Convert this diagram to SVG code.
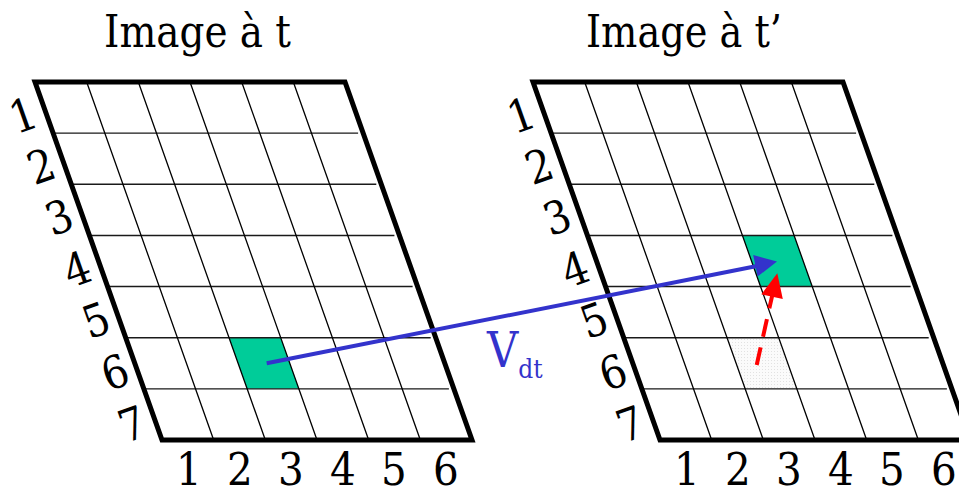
<svg xmlns="http://www.w3.org/2000/svg" xmlns:xlink="http://www.w3.org/1999/xlink" width="959" height="488" viewBox="0 0 959 488">
<style>
text{font-family:'DejaVu Serif Condensed','DejaVu Serif',serif;font-stretch:condensed}
.txt{font-size:45px;fill:#000}
.ttl{font-size:44px;fill:#000}
.num{text-anchor:middle}
.outline{fill:none;stroke:#000;stroke-width:5;stroke-linejoin:miter}
.gl{stroke:#000;stroke-width:1.3;fill:none}
.hl{stroke:#1a1a1a;stroke-width:1.4;fill:none}
.cell{fill:#00cc99}
.vec{stroke:#3333cc;stroke-width:4;fill:none}
.vecHead{fill:#3333cc}
.red{stroke:#ff0000;stroke-width:4;fill:none;stroke-dasharray:18 11}
.redHead{fill:#ff0000}
.vlab{fill:#3333cc}
</style>
<defs>
<pattern id="stip" width="3" height="3" patternUnits="userSpaceOnUse">
<rect width="3" height="3" fill="#fbfbfb"/>
<rect width="1" height="1" fill="#e2e2e2"/>
</pattern>
<g id="gridLines">
<path class="hl" d="M53.14,133.14H358.1 M71.29,184.29H376.3 M89.43,235.43H394.4 M107.57,286.57H412.6 M125.71,337.71H430.7 M143.86,388.86H448.9"/>
<path class="gl" d="M86.67,82L213.67,440 M138.33,82L265.33,440 M190,82L317,440 M241.67,82L368.67,440 M293.33,82L420.33,440"/>
<polygon class="outline" points="35,82 345,82 472,440 162,440"/>
</g>
<g id="rowNums">
<text class="txt num" x="23" y="131" transform="rotate(-19.5 23 115)">1</text>
<text class="txt num" x="41" y="182" transform="rotate(-19.5 41 166)">2</text>
<text class="txt num" x="59" y="233" transform="rotate(-19.5 59 217)">3</text>
<text class="txt num" x="77" y="285" transform="rotate(-19.5 77 269)">4</text>
<text class="txt num" x="96" y="336" transform="rotate(-19.5 96 320)">5</text>
<text class="txt num" x="115" y="388" transform="rotate(-19.5 115 372)">6</text>
<text class="txt num" x="132" y="440" transform="rotate(-19.5 132 424)">7</text>
</g>
<g id="colNums">
<text class="txt num" x="189" y="485">1</text>
<text class="txt num" x="240" y="485">2</text>
<text class="txt num" x="291" y="485">3</text>
<text class="txt num" x="343" y="485">4</text>
<text class="txt num" x="394" y="485">5</text>
<text class="txt num" x="446" y="485">6</text>
</g>
</defs>

<g id="image-t">
<text class="ttl" x="104" y="47" textLength="187" lengthAdjust="spacingAndGlyphs">Image à t</text>
<polygon class="cell" points="229.04,337.71 280.71,337.71 298.86,388.86 247.19,388.86"/>
<use xlink:href="#gridLines"/>
<use xlink:href="#rowNums"/>
<use xlink:href="#colNums"/>
</g>

<g id="image-t-prime">
<text class="ttl" x="586" y="47" textLength="196" lengthAdjust="spacingAndGlyphs">Image à t’</text>
<polygon fill="url(#stip)" points="727.04,337.71 778.71,337.71 796.86,388.86 745.19,388.86"/>
<polygon class="cell" points="742.43,235.43 794.1,235.43 812.24,286.57 760.57,286.57"/>
<g transform="translate(498,0)">
<use xlink:href="#gridLines"/>
<use xlink:href="#rowNums"/>
<use xlink:href="#colNums"/>
</g>
</g>

<g id="connectors">
<g id="vdt">
<line class="vec" x1="266.7" y1="363.3" x2="757" y2="266"/>
<polygon class="vecHead" points="777,261.5 753.2,255 757.6,276.6"/>
</g>
<g id="red-move">
<line class="red" x1="756.7" y1="365" x2="773" y2="292"/>
<polygon class="redHead" points="777.3,273.3 761.3,294.3 782.8,299.1"/>
</g>
</g>

<g id="vdt-label">
<text class="vlab" x="487" y="367" font-size="48">V<tspan font-size="26" y="378">dt</tspan></text>
</g>
</svg>
